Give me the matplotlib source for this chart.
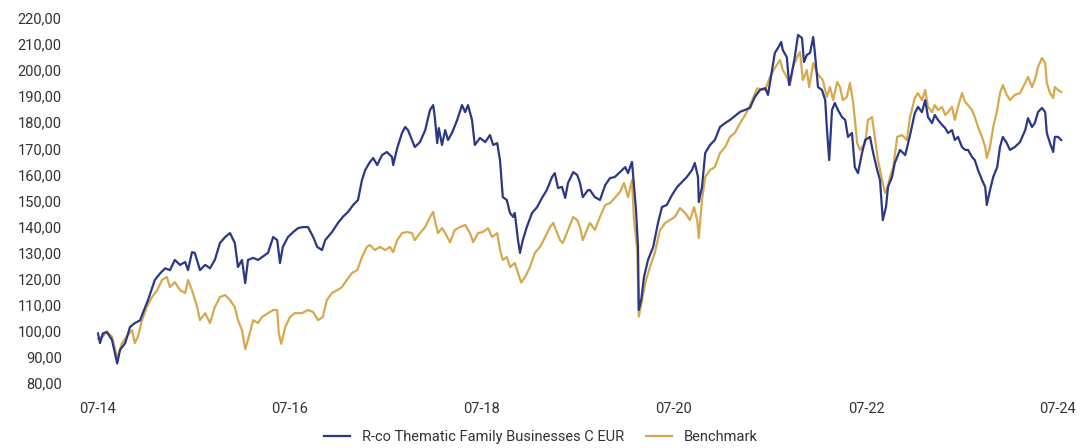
# -------------- 모듈 불러오기 --------------------------------------------------
import numpy as np
import matplotlib
matplotlib.use('Agg')
from matplotlib import pyplot as plt
from matplotlib.ticker import FuncFormatter
# ---------------------------------------------------------------------------


# -------------- 데이터 (07-14 기준 경과 개월수, 지수값) -------------------------
fund_month = [0, 0.25, 0.6, 1.1, 1.75, 2.4, 2.75, 3.4, 4.0, 4.6, 5.25, 5.6, 6.25, 7.1, 7.75,
              8.4, 9.0, 9.6, 10.25, 10.9, 11.25, 11.75, 12.1, 12.75, 13.4, 14.0, 14.6, 15.25,
              15.9, 16.5, 17.1, 17.5, 18.0, 18.4, 18.75, 19.4, 20.0, 20.5, 21.25, 21.9, 22.4,
              22.75, 23.1, 23.75, 24.4, 25.0, 25.6, 26.25, 26.9, 27.4, 28.0, 28.4, 29.25, 30.0,
              30.6, 31.25, 31.9, 32.5, 33.0, 33.4, 34.0, 34.4, 34.9, 35.5, 36.1, 36.75, 36.9,
              37.4, 38.0, 38.4, 38.75, 39.25, 39.6, 40.25, 40.9, 41.5, 41.9, 42.1, 42.4, 42.6,
              43.0, 43.4, 43.75, 44.25, 44.9, 45.5, 45.9, 46.25, 46.75, 47.1, 47.75, 48.4, 49.0,
              49.4, 49.9, 50.25, 50.6, 51.1, 51.5, 51.9, 52.1, 52.5, 52.75, 53.1, 53.6, 54.25,
              54.9, 55.5, 56.1, 56.75, 57.1, 57.5, 58.0, 58.4, 58.75, 59.4, 59.9, 60.25, 60.6,
              61.25, 61.5, 62.1, 62.75, 63.4, 64.0, 64.6, 65.25, 65.9, 66.25, 66.75, 67.25, 67.5,
              67.6, 67.9, 68.25, 68.75, 69.4, 70.0, 70.5, 71.1, 71.75, 72.4, 73.0, 73.6, 74.25,
              74.6, 75.0, 75.1, 75.5, 75.9, 76.5, 77.1, 77.75, 78.4, 79.0, 80.25, 81.5, 82.1,
              82.75, 83.4, 83.75, 84.25, 84.6, 85.0, 85.4, 85.6, 86.1, 86.4, 86.75, 87.1, 87.5,
              88.0, 88.25, 88.6, 89.0, 89.4, 89.6, 90.0, 90.5, 90.9, 91.1, 91.4, 91.75, 92.1,
              92.5, 93.0, 93.4, 93.75, 94.25, 94.6, 95.0, 95.5, 95.9, 96.5, 96.9, 97.4, 97.75,
              98.1, 98.5, 98.75, 99.25, 99.6, 100.25, 100.9, 101.5, 102.1, 102.5, 103.0, 103.4,
              103.75, 104.25, 104.6, 105.0, 105.5, 105.9, 106.25, 106.75, 107.1, 107.5, 108.0,
              108.4, 108.75, 109.25, 109.6, 110.0, 110.5, 110.9, 111.1, 111.5, 111.9, 112.4,
              112.75, 113.1, 113.6, 114.0, 114.6, 115.25, 115.9, 116.25, 116.75, 117.1, 117.5,
              118.0, 118.4, 118.6, 119.0, 119.4, 119.6, 120.0, 120.4]
fund_value = [99, 95.3, 99, 99.6, 96.5, 87.5, 92.7, 95.3, 101.5, 103, 104, 106.8, 111.8, 119.5, 122,
              124, 123.3, 127.2, 125.3, 126.4, 123.3, 130.2, 129.9, 123.3, 125.3, 124, 127.2, 133.7,
              136, 137.5, 133.7, 124.5, 127.2, 118.3, 127.2, 128, 127.2, 128.3, 129.9, 136, 134.8,
              126, 132.2, 136, 137.9, 139.4, 139.8, 139.8, 136, 132.2, 131, 134.8, 137.9, 141.4,
              143.7, 145.6, 148.3, 150.2, 157.9, 161.7, 164.8, 166.3, 163.6, 167.4, 168.6, 166.7, 163.6,
              170.1, 175.9, 178.2, 177, 173.2, 170.5, 172.4, 177, 184.7, 186.6, 182, 172, 177.8,
              171.3, 177, 173.2, 175.9, 180.9, 186.6, 183.9, 186.6, 180.9, 171.3, 174, 172.4, 175.1,
              171.3, 172, 165.5, 151.3, 150.2, 145.2, 143.7, 145.2, 134.8, 129.9, 134.8, 139.8, 145.2,
              147.5, 151, 154, 159, 160.5, 154.8, 155.2, 151, 156.7, 160.9, 159.8, 156.7, 151.3,
              154, 154, 151.3, 150.2, 155.9, 158.6, 159, 160.9, 162.8, 160.5, 164.8, 146.4, 132.2,
              108, 111.8, 120.7, 127.2, 132.2, 141.4, 147.5, 148.3, 152.1, 155.2, 157.1, 159, 161.7,
              164.4, 159, 149.4, 155.2, 168.2, 171.3, 173.2, 178.2, 179.7, 180.9, 184, 185.5, 189.7,
              192.4, 193.1, 190.5, 200, 206.6, 208.5, 210.8, 207.7, 205, 194.3, 199.3, 205, 213.5,
              212.3, 203.1, 205.8, 206.6, 212.7, 207, 193.5, 192.4, 188.5, 178.2, 165.5, 184.7, 187.4,
              184.7, 182, 180.9, 174.4, 175.9, 162.8, 160.5, 168.2, 173.2, 174.4, 168.2, 161.7, 157.9,
              142.5, 147.5, 155.2, 159, 164.4, 169.4, 167.4, 175, 183.5, 185.9, 183.9, 188.5,
              182, 179.7, 182.8, 180.9, 179, 177.8, 175.9, 177, 173.2, 174.4, 170.5,
              169.4, 169.4, 166.7, 165.5, 161.7, 157.9, 155.2, 148.3, 154, 159, 162.8,
              170.5, 174.4, 172, 169.4, 170.5, 172.4, 177, 181.6, 178.2, 179.7, 183.9,
              185.5, 183.9, 175.9, 172, 168.6, 174.4, 174.4, 173.2]

bench_month = [0, 0.6, 1.1, 1.75, 2.4, 3.0, 3.6, 4.25, 4.6, 5.0, 5.5, 6.1, 6.75, 7.4, 8.0, 8.6,
               9.0, 9.6, 10.25, 10.9, 11.25, 11.75, 12.4, 12.75, 13.4, 14.0, 14.6, 15.25, 15.9,
               16.5, 17.1, 17.5, 18.0, 18.4, 18.75, 19.4, 20.0, 20.5, 21.25, 21.9, 22.4, 22.6,
               22.9, 23.4, 24.0, 24.6, 25.5, 26.25, 26.9, 27.5, 28.1, 28.6, 29.25, 29.9, 30.5,
               31.1, 31.75, 32.4, 33.0, 33.6, 34.0, 34.6, 35.25, 35.9, 36.5, 36.9, 37.4, 38.0,
               38.6, 39.25, 39.6, 40.25, 40.9, 41.5, 41.9, 42.1, 42.5, 43.0, 43.4, 44.0, 44.6,
               45.25, 45.9, 46.5, 46.9, 47.5, 48.1, 48.75, 49.25, 49.9, 50.25, 50.6, 51.1, 51.5,
               52.1, 52.5, 52.9, 53.4, 54.0, 54.6, 55.25, 55.9, 56.5, 56.9, 57.4, 57.75, 58.1,
               58.75, 59.4, 59.9, 60.25, 60.6, 61.25, 61.5, 62.1, 62.75, 63.4, 64.0, 64.6, 65.25,
               65.75, 66.25, 66.75, 67.0, 67.4, 67.6, 68.0, 68.5, 69.0, 69.6, 70.25, 70.9, 71.5,
               72.1, 72.75, 73.4, 74.0, 74.5, 74.9, 75.1, 75.5, 75.9, 76.5, 77.1, 77.75, 78.4,
               79.0, 79.6, 80.25, 80.9, 81.5, 82.4, 83.4, 84.0, 84.6, 85.25, 85.6, 86.1, 86.5,
               86.9, 87.4, 87.75, 88.1, 88.6, 88.9, 89.4, 89.9, 90.25, 90.6, 91.1, 91.5, 91.9,
               92.4, 92.75, 93.1, 93.6, 94.0, 94.4, 94.9, 95.25, 95.9, 96.25, 96.75, 97.1, 97.5,
               98.0, 98.4, 98.6, 99.0, 99.4, 99.9, 100.5, 101.1, 101.5, 102.1, 102.5, 103.0,
               103.4, 103.75, 104.25, 104.6, 105.0, 105.5, 105.9, 106.25, 106.75, 107.1, 107.5,
               108.0, 108.4, 108.75, 109.25, 109.6, 110.0, 110.5, 110.9, 111.1, 111.5, 111.9,
               112.4, 112.75, 113.1, 113.6, 114.0, 114.6, 115.25, 115.9, 116.25, 116.75, 117.1,
               117.5, 118.0, 118.4, 118.6, 119.0, 119.4, 119.6, 120.0, 120.4]
bench_value = [97, 97.8, 99.6, 97.8, 89.5, 95.3, 97.8, 100.3, 95.3, 97.8, 104.1, 109.1, 113, 115.6,
               119.5, 120.7, 116.8, 118.7, 115.6, 114.5, 119.5, 115.6, 109.1, 104.1, 106.8, 103, 109.1,
               113, 113.7, 111.8, 109.1, 104.1, 100.3, 93, 96.5, 104.1, 103, 105.3, 106.8, 108, 108,
               99.2, 95, 101.5, 105.3, 106.8, 106.8, 108, 107.2, 104.1, 105.3, 111.8, 114.5, 115.6,
               116.8, 119.5, 122.2, 123.3, 128.3, 132.2, 132.9, 131, 132.2, 131, 132.2, 130.2, 134.8,
               137.5, 137.9, 137.5, 134.8, 137.5, 139.8, 143.7, 145.6, 142.5, 137.5, 139.4, 137.5, 134,
               138.7, 139.8, 140.6, 137.5, 134, 137.5, 137.9, 139.4, 136, 137.5, 131, 127.2, 128.3,
               124.5, 126, 122.2, 118.5, 120.7, 124.5, 129.9, 132.2, 136, 139.8, 141.4, 137.5, 134.8,
               133.7, 138.7, 143.7, 142.5, 139.8, 134.8, 139.8, 141.4, 138.7, 143.7, 148.3, 149, 151,
               153.3, 156.7, 151.3, 157.9, 142.5, 131, 105.5, 111.8, 119.5, 124.5, 129.9, 138.7,
               141.4, 142.5, 143.7, 147.1, 145.2, 142.5, 147.5, 142.5, 135.6, 150.2, 159, 161.7,
               162.8, 168.2, 170.5, 174.4, 175.9, 179.7, 182.8, 186.6, 193, 192.4, 197.4, 200.8,
               203.9, 200, 197.4, 194.3, 201.2, 205, 207, 196.2, 200, 193.5, 202.7, 198.9, 197.4,
               196.2, 189.7, 193.5, 188.5, 195.5, 193.5, 188.5, 189.7, 195.1, 187.4, 172, 169.4,
               172, 180.9, 182, 174.4, 165.5, 157.9, 152.9, 154, 159, 162.8, 174.4, 175.1, 173.2,
               182, 189.3, 191.2, 188.5, 192.4, 185.9, 183.9, 186.6, 184.7, 185.9, 182.8, 183.9,
               185.9, 180.9, 185.9, 191.2, 187.8, 186.6, 184.7, 182, 178.2, 174.4, 170.5, 166.3,
               170.5, 178.2, 184.7, 191.2, 194.3, 190.5, 188.5, 190.5, 191.2, 195.1, 197.4, 193.5,
               196.2, 201.2, 204.7, 202.7, 195.1, 191.2, 189.3, 193.5, 192.4, 191.6]

tick_month = [0, 24, 48, 72, 96, 120]
tick_label = ['07-14', '07-16', '07-18', '07-20', '07-22', '07-24']
y_ticks = list(range(80, 221, 10))

fund_name = 'R-co Thematic Family Businesses C EUR'
bench_name = 'Benchmark'
# ---------------------------------------------------------------------------


# -------------- 그래프 그리기 -------------------------------------------------
plt.rcParams['font.family'] = ['Roboto', 'DejaVu Sans']

fig = plt.figure(figsize=(10.82, 4.48), dpi=100)
ax = fig.add_axes([70 / 1082, 1 - 383 / 448, 1000 / 1082, 365 / 448])

ax.plot(fund_month, fund_value, color='#2a3886', lw=1.6, label=fund_name, zorder=3)
ax.plot(bench_month, bench_value, color='#d6a94f', lw=1.6, label=bench_name, zorder=2)

ax.set_xlim(-3.5, 121.5)
ax.set_ylim(80, 220)
ax.set_xticks(tick_month)
ax.set_xticklabels(tick_label)
ax.set_yticks(y_ticks)
ax.yaxis.set_major_formatter(FuncFormatter(lambda v, p: ('%.2f' % v).replace('.', ',')))

for s in ax.spines.values():
    s.set_visible(False)
ax.tick_params(axis='both', length=0, labelsize=10.5, labelcolor='#333333')
ax.tick_params(axis='y', pad=6)
ax.tick_params(axis='x', pad=14)

fig.legend(loc='lower center', bbox_to_anchor=(0.5, -0.02), ncol=2, frameon=False,
           fontsize=10.5, handlelength=1.8, columnspacing=1.5, labelcolor='#333333')

plt.savefig('out.png', dpi=100)
# ---------------------------------------------------------------------------
